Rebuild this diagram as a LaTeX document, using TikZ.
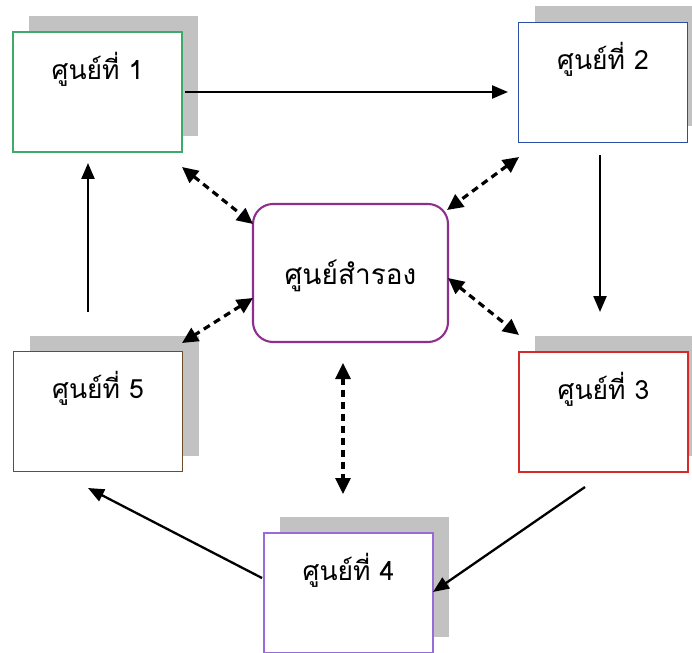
\documentclass[tikz,border=0pt]{standalone}
\usepackage{fontspec}
\newfontfamily\thaifont[Script=Thai]{Loma}
\usetikzlibrary{arrows.meta,shadows}
\definecolor{shadowgray}{HTML}{C2C2C2}
\definecolor{cgreen}{HTML}{3DAA6C}
\definecolor{cblue}{HTML}{2B4FA8}
\definecolor{cred}{HTML}{D42A2A}
\definecolor{cviolet}{HTML}{9A6AD8}
\definecolor{cbrown}{HTML}{6E4B2A}
\definecolor{cmag}{HTML}{8E2E8E}
\begin{document}
\begin{tikzpicture}[x=1pt,y=-1pt,
  box/.style={draw, line width=1.9pt, fill=white, minimum width=169pt, minimum height=120pt, inner sep=0pt,
    drop shadow={shadow xshift=16pt, shadow yshift=16pt, fill=shadowgray, opacity=1}},
  hub/.style={draw=cmag, line width=2.1pt, fill=white, rounded corners=20pt, minimum width=195pt, minimum height=138pt, inner sep=0pt},
  lbl/.style={font=\thaifont\fontsize{26.5}{30}\selectfont, anchor=base, inner sep=0pt},
  flow/.style={line width=2.3pt, -{Triangle[length=16pt,width=13pt]}},
  link/.style={line width=3.2pt, dash pattern=on 7pt off 5pt, {Triangle[length=16pt,width=15pt]}-{Triangle[length=16pt,width=15pt]}}
]
\useasboundingbox (0,0) rectangle (692,652);
% boxes
\node[box, draw=cgreen]  (b1) at (97.5,92) {};
\node[box, draw=cblue]   (b2) at (603,82.5) {};
\node[box, draw=cred]    (b3) at (603.5,412) {};
\node[box, draw=cviolet] (b4) at (348.5,593) {};
\node[box, draw=cbrown]  (b5) at (98,411.5) {};
\node[hub] (c) at (350.5,273) {};
% labels
\node[lbl] (t1) at ([yshift=-48pt]b1.north) {ศูนย์ที่ 1};
\node[lbl] (t2) at ([yshift=-48pt]b2.north) {ศูนย์ที่ 2};
\node[lbl] (t3) at ([yshift=-48pt]b3.north) {ศูนย์ที่ 3};
\node[lbl] (t4) at ([yshift=-48pt]b4.north) {ศูนย์ที่ 4};
\node[lbl] (t5) at ([yshift=-48pt]b5.north) {ศูนย์ที่ 5};
\node[lbl, font=\thaifont\fontsize{28}{32}\selectfont] (tc) at ([yshift=-11pt]c.center) {ศูนย์สำรอง};
% connector end points
\coordinate (p12a) at (185,92);   \coordinate (p12b) at (508,92);
\coordinate (p23a) at (600,155);  \coordinate (p23b) at (600,312);
\coordinate (p34a) at (585,487);  \coordinate (p34b) at (433,592);
\coordinate (p45a) at (262,578);  \coordinate (p45b) at (88,488);
\coordinate (p51a) at (88,312);   \coordinate (p51b) at (88,163);
\coordinate (d1a) at (182,167);   \coordinate (d1b) at (253,224);
\coordinate (d2a) at (519,157);   \coordinate (d2b) at (447,210);
\coordinate (d3a) at (448,278);   \coordinate (d3b) at (519,335);
\coordinate (d5a) at (253,298);   \coordinate (d5b) at (182,343);
\coordinate (d4a) at (343,363);   \coordinate (d4b) at (343,494);
% flow arrows
\draw[flow] (p12a) -- (p12b);
\draw[flow] (p23a) -- (p23b);
\draw[flow] (p34a) -- (p34b);
\draw[flow] (p45a) -- (p45b);
\draw[flow] (p51a) -- (p51b);
% dashed links
\draw[link] (d1a) -- (d1b);
\draw[link] (d2a) -- (d2b);
\draw[link] (d3a) -- (d3b);
\draw[link] (d5a) -- (d5b);
\draw[link] (d4a) -- (d4b);
\end{tikzpicture}
\end{document}
